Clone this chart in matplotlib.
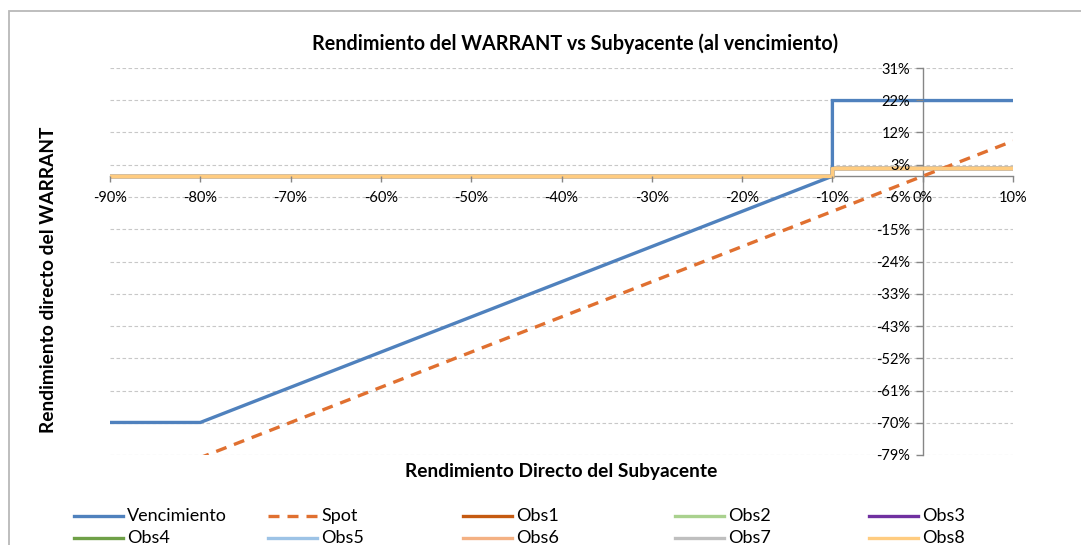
import numpy as np
import matplotlib.pyplot as plt
from matplotlib.lines import Line2D
from matplotlib.patches import Rectangle

plt.rcParams['font.family'] = ['Lato', 'DejaVu Sans']

# Figure size in pixels
W, H = 1081, 545

# Series data (returns as fractions)
venc_x = [-0.90, -0.80, -0.10, -0.10, 0.10]
venc_y = [-0.70, -0.70, 0.00, 0.215, 0.215]

spot_x = [-0.90, 0.10]
spot_y = [-0.90, 0.10]

obs_x = [-0.90, -0.10, -0.10, 0.10]
obs_y = [0.00, 0.00, 0.022, 0.022]

obs_names = ['Obs1', 'Obs2', 'Obs3', 'Obs4', 'Obs5', 'Obs6', 'Obs7', 'Obs8']
obs_colors = ['#C55A11', '#A9D18E', '#7030A0', '#6FA047',
              '#9DC3E6', '#F4B183', '#BFBFBF', '#FFCC80']

# Axis ticks
xticks = [-0.9, -0.8, -0.7, -0.6, -0.5, -0.4, -0.3, -0.2, -0.1, 0.0, 0.1]
xtick_labels = ['-90%', '-80%', '-70%', '-60%', '-50%', '-40%', '-30%',
                '-20%', '-10%', '0%', '10%']
y_min, y_max = -0.7925, 0.3075
ytick_labels = ['-79%', '-70%', '-61%', '-52%', '-43%', '-33%', '-24%',
                '-15%', '-6%', '3%', '12%', '22%', '31%']

blue = '#4F81BD'
orange = '#E07030'
axis_gray = '#868686'
dash = (0, (3.3, 2.4))


def fx(x):
    return x / W


def fy(y):
    return 1 - y / H


fig = plt.figure(figsize=(W / 100, H / 100), dpi=100)
ax = fig.add_axes([fx(110), fy(455), (1013 - 110) / W, (455 - 68) / H])

yticks = np.linspace(y_min, y_max, len(ytick_labels))

# dashed horizontal gridlines
ax.hlines(yticks, xticks[0], xticks[-1], colors='#C8C8C8', linewidth=0.8,
          linestyles=(0, (3.2, 2.2)), zorder=0.5)

# series
for name, col in zip(obs_names, obs_colors):
    ax.plot(obs_x, obs_y, color=col, lw=2.4, zorder=2, solid_joinstyle='miter')
ax.plot(venc_x, venc_y, color=blue, lw=2.4, zorder=2.2, solid_joinstyle='miter')
ax.plot(spot_x, spot_y, color=orange, lw=2.4, zorder=2.1, linestyle=dash)
# obs8 is the last series, so it ends up on top
ax.plot(obs_x, obs_y, color=obs_colors[-1], lw=2.4, zorder=2.3)

ax.set_xlim(xticks[0], xticks[-1])
ax.set_ylim(y_min, y_max)
ax.set_xticks(xticks)
ax.set_xticklabels(xtick_labels)
ax.set_yticks(yticks)
ax.set_yticklabels(ytick_labels)

for s in ['top', 'right']:
    ax.spines[s].set_visible(False)
ax.spines['left'].set_position(('data', 0))
ax.spines['bottom'].set_position(('data', 0))
for s in ['left', 'bottom']:
    ax.spines[s].set_color(axis_gray)
    ax.spines[s].set_linewidth(1.0)
    ax.spines[s].set_zorder(1)
ax.set_axisbelow(False)
ax.tick_params(axis='x', direction='out', length=4, width=1, color=axis_gray,
               pad=6.5, labelsize=10.5)
ax.tick_params(axis='y', direction='out', length=5, width=1, color=axis_gray,
               pad=4, labelsize=10.5)
ax.patch.set_visible(False)

# titles
fig.text(fx(575), fy(44), 'Rendimiento del WARRANT vs Subyacente (al vencimiento)',
         ha='center', va='center', fontsize=14.2, fontweight='bold')
fig.text(fx(561), fy(471), 'Rendimiento Directo del Subyacente',
         ha='center', va='center', fontsize=13.8, fontweight='bold')
fig.text(fx(49), fy(280), 'Rendimiento directo del WARRANT', rotation=90,
         ha='center', va='center', fontsize=13.8, fontweight='bold')

# legend drawn in Excel-like fixed columns
leg_names = ['Vencimiento', 'Spot'] + obs_names
leg_colors = [blue, orange] + obs_colors
leg_styles = ['-', dash] + ['-'] * len(obs_names)
leg_cols = [74, 268, 463, 675, 869]
leg_rows = [516, 538]
for i, (name, col, ls) in enumerate(zip(leg_names, leg_colors, leg_styles)):
    x0 = leg_cols[i % 5]
    y0 = leg_rows[i // 5]
    fig.add_artist(Line2D([fx(x0), fx(x0 + 49)], [fy(y0), fy(y0)],
                          transform=fig.transFigure, color=col, lw=2.4,
                          linestyle=ls))
    fig.text(fx(x0 + 53), fy(y0), name, ha='left', va='center', fontsize=13)

# chart border
fig.add_artist(Rectangle((fx(9), fy(560)), fx(1100) - fx(9), fy(11) - fy(560),
                         transform=fig.transFigure, fill=False,
                         edgecolor='#B9B9B9', lw=1.3))

fig.savefig('out.png', dpi=100)
